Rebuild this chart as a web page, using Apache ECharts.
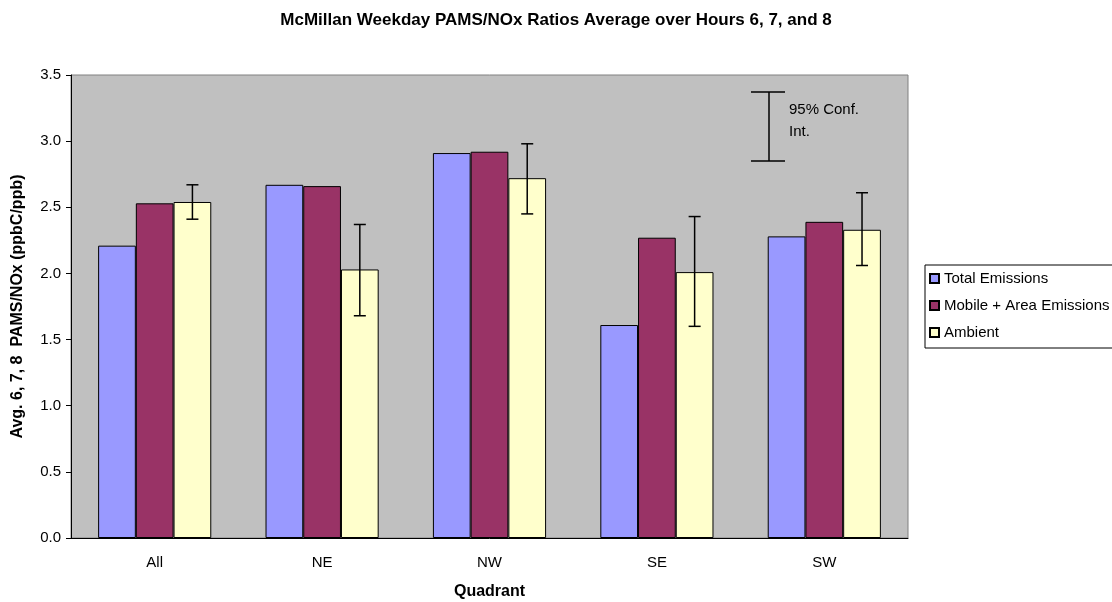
<!DOCTYPE html>
<html>
<head>
<meta charset="utf-8">
<script src="https://cdn.jsdelivr.net/npm/echarts@6/dist/echarts.min.js"></script>
<style>
  html, body { margin: 0; padding: 0; background: #fff; }
  #main { width: 1112px; height: 602px; }
</style>
</head>
<body>
<div id="main"></div>
<script>
var quadrants = ['All', 'NE', 'NW', 'SE', 'SW'];
var totalEmissions = [2.21, 2.67, 2.91, 1.61, 2.28];
var mobileArea = [2.53, 2.66, 2.92, 2.27, 2.39];
var ambient = [2.54, 2.03, 2.72, 2.01, 2.33];
var ciLow = [2.41, 1.68, 2.45, 1.60, 2.06];   // 95% 置信区间下限
var ciHigh = [2.67, 2.37, 2.98, 2.43, 2.61];  // 上限

var catGap = 0.324;
var font = 'Liberation Sans, Arial, sans-serif';

var myChart = echarts.init(document.getElementById('main'));

// 误差线画在 Ambient 柱子中间
function renderErr(params, api) {
    var idx = api.value(0);
    var lo = api.coord([idx, api.value(1)]);
    var hi = api.coord([idx, api.value(2)]);
    var band = api.size([1, 0])[0];
    var x = lo[0] + band * (1 - catGap) / 3;
    var cap = 6;
    var st = { stroke: '#000', lineWidth: 1.5 };
    return {
        type: 'group',
        children: [
            { type: 'line', shape: { x1: x, y1: lo[1], x2: x, y2: hi[1] }, style: st },
            { type: 'line', shape: { x1: x - cap, y1: lo[1], x2: x + cap, y2: lo[1] }, style: st },
            { type: 'line', shape: { x1: x - cap, y1: hi[1], x2: x + cap, y2: hi[1] }, style: st }
        ]
    };
}

var barItem = function (c) {
    return { color: c, borderColor: '#000', borderWidth: 1 };
};

var option = {
    animation: false,
    backgroundColor: '#fff',
    textStyle: { fontFamily: font },
    title: {
        text: 'McMillan Weekday PAMS/NOx Ratios Average over Hours 6, 7, and 8',
        left: 'center',
        top: 7,
        textStyle: { fontSize: 17, fontWeight: 'bold', color: '#000', fontFamily: font }
    },
    legend: {
        orient: 'vertical',
        left: 925,
        top: 265,
        padding: [6, 80, 8, 4],
        itemGap: 12,
        itemWidth: 9,
        itemHeight: 9,
        borderColor: '#000',
        borderWidth: 1,
        backgroundColor: '#fff',
        textStyle: { fontSize: 15, color: '#000', fontFamily: font },
        data: [
            { name: 'Total Emissions', icon: 'rect' },
            { name: 'Mobile + Area Emissions', icon: 'rect' },
            { name: 'Ambient', icon: 'rect' }
        ]
    },
    grid: {
        left: 71,
        right: 204,
        top: 75,
        bottom: 64,
        outerBoundsMode: 'none',
        containLabel: false,
        show: true,
        backgroundColor: '#c0c0c0',
        borderColor: '#808080',
        borderWidth: 1
    },
    xAxis: {
        type: 'category',
        data: quadrants,
        name: 'Quadrant',
        nameLocation: 'middle',
        nameGap: 46,
        nameTextStyle: { fontSize: 16, fontWeight: 'bold', color: '#000' },
        axisLine: { lineStyle: { color: '#000' } },
        axisTick: { alignWithLabel: false, length: 5, lineStyle: { color: '#000' } },
        axisLabel: { fontSize: 15, color: '#000', margin: 17 }
    },
    yAxis: {
        type: 'value',
        min: 0,
        max: 3.5,
        interval: 0.5,
        name: 'Avg. 6, 7, 8  PAMS/NOx (ppbC/ppb)',
        nameLocation: 'middle',
        nameGap: 45,
        nameTextStyle: { fontSize: 16, fontWeight: 'bold', color: '#000' },
        axisLine: { show: true, lineStyle: { color: '#000' } },
        axisTick: { show: true, length: 5, lineStyle: { color: '#000' } },
        splitLine: { show: false },
        axisLabel: {
            fontSize: 15, color: '#000', margin: 10,
            formatter: function (v) { return v.toFixed(1); }
        }
    },
    graphic: [
        { type: 'line', shape: { x1: 769, y1: 92, x2: 769, y2: 161 }, style: { stroke: '#000', lineWidth: 1.5 } },
        { type: 'line', shape: { x1: 751, y1: 92, x2: 785, y2: 92 }, style: { stroke: '#000', lineWidth: 1.5 } },
        { type: 'line', shape: { x1: 751, y1: 161, x2: 785, y2: 161 }, style: { stroke: '#000', lineWidth: 1.5 } },
        { type: 'text', left: 789, top: 102, style: { text: '95% Conf.', font: '15px ' + font, fill: '#000' } },
        { type: 'text', left: 789, top: 124, style: { text: 'Int.', font: '15px ' + font, fill: '#000' } }
    ],
    series: [
        {
            name: 'Total Emissions', type: 'bar', data: totalEmissions,
            barGap: 0, barCategoryGap: (catGap * 100) + '%',
            itemStyle: barItem('#9999ff')
        },
        {
            name: 'Mobile + Area Emissions', type: 'bar', data: mobileArea,
            barGap: 0, barCategoryGap: (catGap * 100) + '%',
            itemStyle: barItem('#993366')
        },
        {
            name: 'Ambient', type: 'bar', data: ambient,
            barGap: 0, barCategoryGap: (catGap * 100) + '%',
            itemStyle: barItem('#ffffcc')
        },
        {
            name: 'ci', type: 'custom', renderItem: renderErr, z: 10,
            encode: { x: 0, y: [1, 2] },
            data: quadrants.map(function (q, i) { return [i, ciLow[i], ciHigh[i]]; })
        }
    ]
};

myChart.setOption(option);
</script>
</body>
</html>
